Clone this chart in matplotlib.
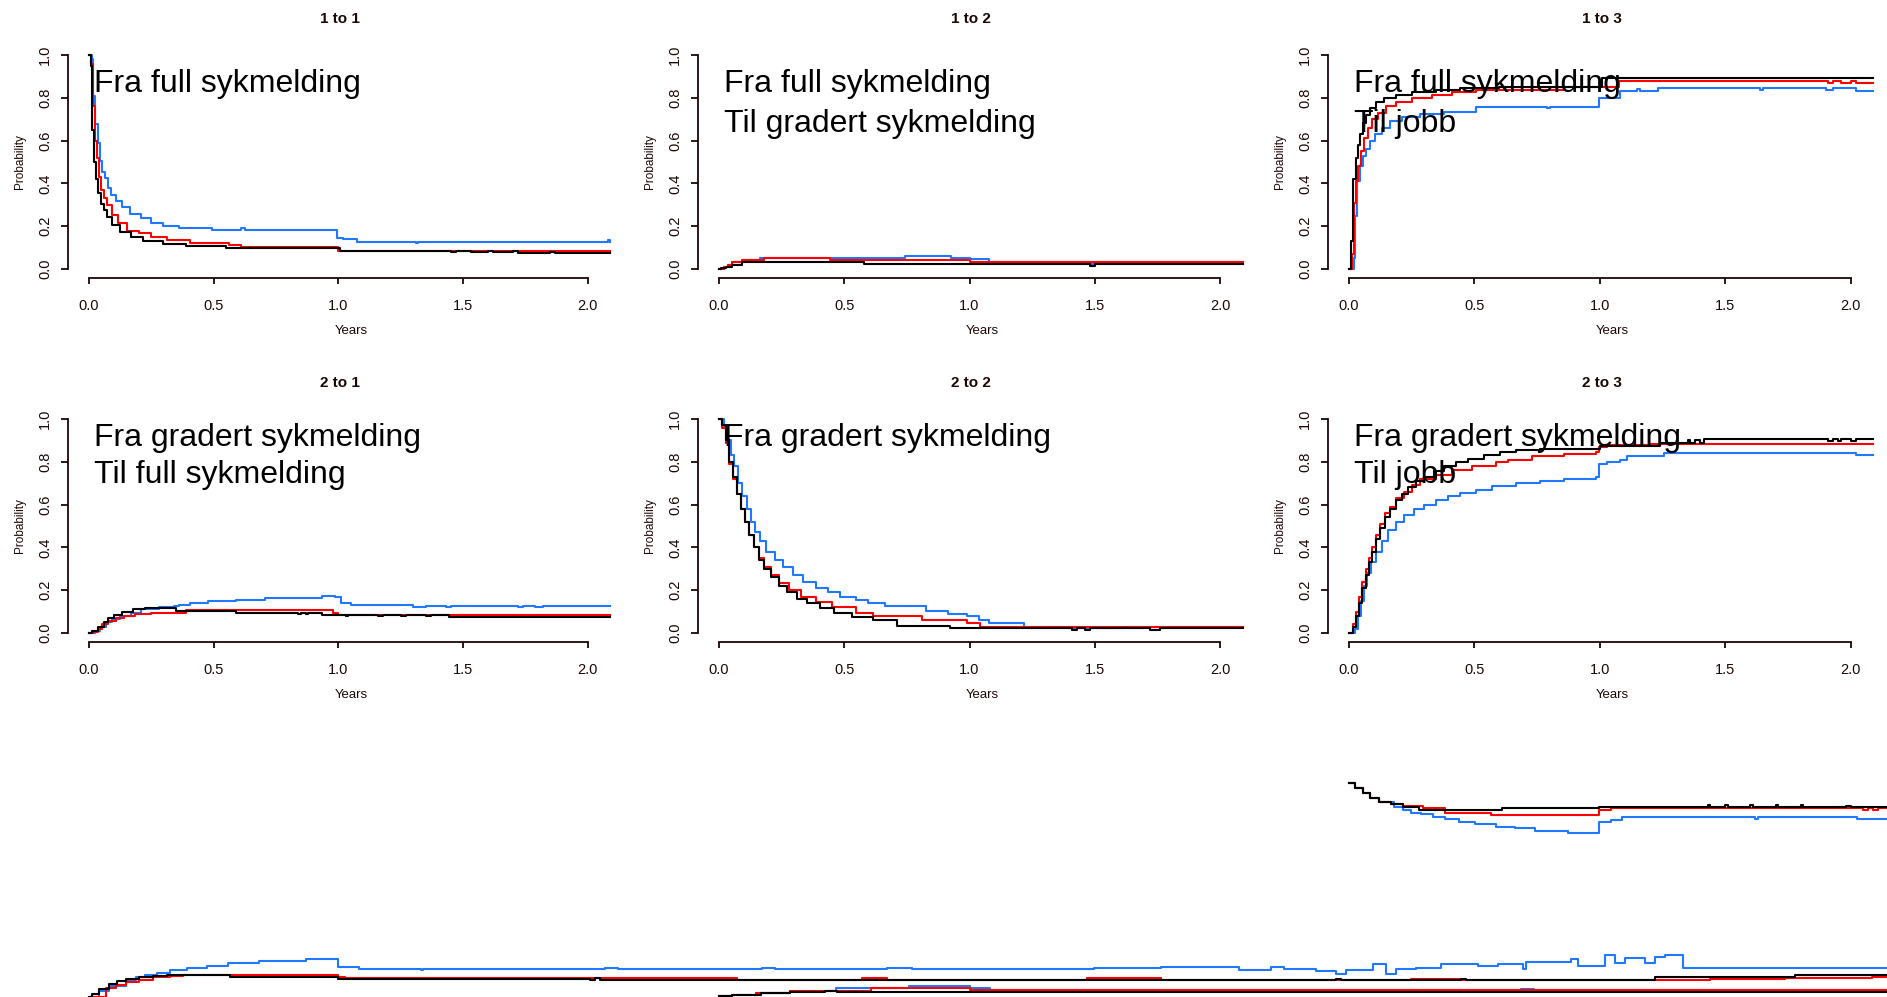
import matplotlib.pyplot as plt

# --- Transition probabilities (years, probability) for the three groups ---
# k = black, r = red, b = blue

# 1 to 1
k11 = [(0, 1.0), (0.0065, 0.95), (0.011, 0.65), (0.02, 0.50), (0.029, 0.42), (0.036, 0.357),
       (0.047, 0.302), (0.06, 0.276), (0.072, 0.245), (0.093, 0.206), (0.126, 0.174),
       (0.167, 0.148), (0.216, 0.132), (0.298, 0.115), (0.388, 0.107), (0.55, 0.097),
       (1.005, 0.086), (1.45, 0.078), (1.47, 0.086), (1.53, 0.078), (1.6, 0.086),
       (1.62, 0.078), (1.7, 0.086), (1.72, 0.075), (1.85, 0.08), (1.87, 0.075), (2.09, 0.075)]
r11 = [(0, 1.0), (0.008, 0.96), (0.016, 0.76), (0.023, 0.60), (0.033, 0.52), (0.041, 0.431),
       (0.049, 0.37), (0.061, 0.33), (0.072, 0.30), (0.093, 0.252), (0.118, 0.217),
       (0.151, 0.18), (0.2, 0.167), (0.249, 0.148), (0.314, 0.135), (0.404, 0.123),
       (0.56, 0.112), (0.61, 0.104), (1.0, 0.086), (2.09, 0.086)]
b11 = [(0, 1.0), (0.011, 0.98), (0.016, 0.81), (0.025, 0.678), (0.036, 0.59), (0.046, 0.505),
       (0.052, 0.455), (0.065, 0.424), (0.077, 0.377), (0.088, 0.346), (0.11, 0.318),
       (0.134, 0.288), (0.164, 0.255), (0.208, 0.237), (0.249, 0.217), (0.298, 0.20),
       (0.363, 0.19), (0.494, 0.182), (0.609, 0.19), (0.625, 0.182), (0.993, 0.146),
       (1.018, 0.139), (1.075, 0.128), (1.31, 0.12), (1.32, 0.128), (2.08, 0.135), (2.09, 0.128)]

# 1 to 2
k12 = [(0, 0), (0.01, 0.003), (0.028, 0.011), (0.052, 0.019), (0.093, 0.031), (0.581, 0.022),
       (1.48, 0.015), (1.50, 0.022), (2.09, 0.022)]
r12 = [(0, 0), (0.02, 0.01), (0.036, 0.02), (0.052, 0.034), (0.093, 0.044), (0.182, 0.053),
       (0.442, 0.044), (1.0, 0.031), (2.09, 0.031)]
b12 = [(0, 0), (0.02, 0.01), (0.036, 0.02), (0.052, 0.034), (0.093, 0.044), (0.166, 0.053),
       (0.744, 0.063), (0.926, 0.05), (1.0, 0.045), (1.077, 0.031), (1.48, 0.025),
       (1.50, 0.031), (2.09, 0.031)]

# 1 to 3
k13 = [(0, 0), (0.0096, 0.13), (0.0175, 0.42), (0.029, 0.52), (0.038, 0.58), (0.045, 0.63),
       (0.057, 0.68), (0.069, 0.72), (0.084, 0.75), (0.108, 0.78), (0.14, 0.80),
       (0.188, 0.815), (0.252, 0.825), (0.347, 0.835), (0.443, 0.845), (0.6, 0.852),
       (1.009, 0.891), (2.09, 0.891)]
r13 = [(0, 0), (0.013, 0.07), (0.021, 0.31), (0.029, 0.41), (0.038, 0.48), (0.048, 0.55),
       (0.061, 0.61), (0.076, 0.66), (0.092, 0.70), (0.116, 0.73), (0.148, 0.76),
       (0.188, 0.78), (0.252, 0.80), (0.331, 0.815), (0.411, 0.825), (0.507, 0.835),
       (0.857, 0.85), (1.076, 0.88), (1.909, 0.87), (1.93, 0.88), (1.96, 0.87), (2.0, 0.88),
       (2.02, 0.87), (2.09, 0.87)]
b13 = [(0, 0), (0.019, 0.05), (0.025, 0.25), (0.033, 0.41), (0.045, 0.48), (0.057, 0.53),
       (0.069, 0.56), (0.084, 0.60), (0.105, 0.63), (0.132, 0.66), (0.164, 0.69),
       (0.212, 0.71), (0.284, 0.725), (0.379, 0.735), (0.507, 0.755), (0.79, 0.75),
       (0.80, 0.755), (0.998, 0.80), (1.08, 0.833), (1.15, 0.84), (1.16, 0.833),
       (1.23, 0.844), (1.64, 0.838), (1.65, 0.844), (1.9, 0.834), (1.93, 0.844),
       (2.02, 0.83), (2.09, 0.83)]

# 2 to 1
k21 = [(0, 0), (0.011, 0.01), (0.036, 0.03), (0.061, 0.05), (0.077, 0.07), (0.101, 0.085),
       (0.134, 0.10), (0.175, 0.11), (0.224, 0.115), (0.347, 0.105), (0.589, 0.095),
       (0.84, 0.088), (0.85, 0.095), (0.87, 0.088), (0.88, 0.095), (0.936, 0.085),
       (1.03, 0.08), (1.04, 0.085), (1.16, 0.078), (1.18, 0.085), (1.25, 0.078),
       (1.27, 0.085), (1.35, 0.078), (1.37, 0.085), (1.443, 0.075), (2.09, 0.075)]
r21 = [(0, 0), (0.016, 0.005), (0.036, 0.02), (0.052, 0.04), (0.077, 0.055), (0.110, 0.07),
       (0.142, 0.08), (0.183, 0.09), (0.249, 0.095), (0.388, 0.106), (0.977, 0.095),
       (1.0, 0.085), (2.09, 0.085)]
b21 = [(0, 0), (0.023, 0.01), (0.044, 0.03), (0.069, 0.05), (0.093, 0.065), (0.126, 0.08),
       (0.167, 0.095), (0.208, 0.11), (0.282, 0.12), (0.339, 0.125), (0.363, 0.13),
       (0.404, 0.14), (0.478, 0.15), (0.589, 0.155), (0.704, 0.165), (0.936, 0.175),
       (0.985, 0.17), (1.01, 0.14), (1.05, 0.13), (1.30, 0.12), (1.35, 0.125), (1.43, 0.12),
       (1.45, 0.125), (1.72, 0.12), (1.74, 0.125), (1.79, 0.12), (1.82, 0.125), (2.09, 0.125)]

# 2 to 2
k22 = [(0, 1.0), (0.011, 0.97), (0.028, 0.90), (0.041, 0.80), (0.057, 0.73), (0.073, 0.65),
       (0.09, 0.58), (0.106, 0.52), (0.122, 0.46), (0.142, 0.40), (0.161, 0.34),
       (0.182, 0.30), (0.207, 0.26), (0.239, 0.22), (0.272, 0.19), (0.312, 0.16),
       (0.353, 0.14), (0.402, 0.115), (0.459, 0.095), (0.532, 0.075), (0.614, 0.06),
       (0.711, 0.035), (0.923, 0.025), (1.41, 0.015), (1.43, 0.025), (1.46, 0.015),
       (1.48, 0.025), (1.72, 0.015), (1.76, 0.025), (2.09, 0.025)]
r22 = [(0, 1.0), (0.011, 0.96), (0.028, 0.89), (0.041, 0.79), (0.057, 0.72), (0.073, 0.65),
       (0.09, 0.58), (0.106, 0.52), (0.122, 0.46), (0.142, 0.40), (0.161, 0.35),
       (0.182, 0.31), (0.207, 0.27), (0.239, 0.235), (0.279, 0.20), (0.329, 0.17),
       (0.386, 0.145), (0.451, 0.12), (0.549, 0.095), (0.614, 0.08), (0.81, 0.06),
       (0.988, 0.045), (1.04, 0.03), (2.09, 0.03)]
b22 = [(0, 1.0), (0.02, 0.96), (0.036, 0.90), (0.047, 0.83), (0.060, 0.78), (0.076, 0.70),
       (0.093, 0.64), (0.112, 0.58), (0.129, 0.52), (0.146, 0.47), (0.166, 0.43),
       (0.19, 0.38), (0.223, 0.34), (0.256, 0.31), (0.296, 0.27), (0.337, 0.24),
       (0.386, 0.21), (0.435, 0.19), (0.484, 0.17), (0.549, 0.155), (0.597, 0.14),
       (0.662, 0.125), (0.825, 0.105), (0.915, 0.09), (0.988, 0.08), (1.037, 0.06),
       (1.077, 0.045), (1.216, 0.03), (1.41, 0.025), (1.61, 0.03), (2.09, 0.03)]

# 2 to 3
k23 = [(0, 0), (0.016, 0.03), (0.029, 0.08), (0.041, 0.14), (0.054, 0.21), (0.067, 0.27),
       (0.08, 0.33), (0.092, 0.38), (0.108, 0.44), (0.124, 0.49), (0.143, 0.54),
       (0.164, 0.58), (0.188, 0.62), (0.212, 0.65), (0.236, 0.68), (0.268, 0.71),
       (0.30, 0.73), (0.339, 0.755), (0.379, 0.78), (0.427, 0.80), (0.475, 0.815),
       (0.539, 0.83), (0.602, 0.845), (0.666, 0.855), (0.762, 0.86), (1.001, 0.875),
       (1.24, 0.89), (1.35, 0.9), (1.36, 0.89), (1.38, 0.9), (1.40, 0.89), (1.415, 0.905),
       (1.91, 0.895), (1.93, 0.905), (1.95, 0.895), (1.96, 0.905), (2.0, 0.895),
       (2.02, 0.905), (2.09, 0.905)]
r23 = [(0, 0), (0.016, 0.04), (0.029, 0.10), (0.041, 0.17), (0.054, 0.24), (0.067, 0.30),
       (0.08, 0.35), (0.092, 0.40), (0.108, 0.46), (0.124, 0.51), (0.143, 0.56),
       (0.164, 0.59), (0.188, 0.63), (0.220, 0.66), (0.252, 0.69), (0.284, 0.72),
       (0.347, 0.74), (0.411, 0.76), (0.491, 0.78), (0.586, 0.80), (0.634, 0.81),
       (0.73, 0.825), (0.857, 0.835), (0.985, 0.845), (0.998, 0.87), (1.03, 0.88),
       (1.2, 0.885), (2.09, 0.885)]
b23 = [(0, 0), (0.025, 0.02), (0.037, 0.08), (0.048, 0.15), (0.061, 0.22), (0.073, 0.28),
       (0.089, 0.33), (0.108, 0.38), (0.132, 0.43), (0.156, 0.48), (0.188, 0.52),
       (0.22, 0.55), (0.26, 0.58), (0.3, 0.60), (0.347, 0.62), (0.395, 0.64), (0.443, 0.655),
       (0.507, 0.67), (0.57, 0.685), (0.666, 0.70), (0.762, 0.71), (0.857, 0.72),
       (0.985, 0.73), (0.998, 0.79), (1.03, 0.80), (1.08, 0.81), (1.11, 0.825),
       (1.256, 0.84), (2.02, 0.83), (2.09, 0.83)]

# 3 to 1 (longer follow-up, drawn past the panel edge)
k31 = [(0, 0), (0.012, 0.014), (0.04, 0.037), (0.081, 0.061), (0.113, 0.075), (0.15, 0.084),
       (0.2, 0.093), (0.255, 0.098), (0.312, 0.103), (0.567, 0.093), (1.0, 0.084),
       (2.01, 0.079), (2.03, 0.088), (2.05, 0.079), (4.95, 0.079), (5.0, 0.084),
       (5.02, 0.079), (5.5, 0.084), (5.52, 0.079), (6.28, 0.093), (6.84, 0.103), (7.21, 0.103)]
r31 = [(0, 0), (0.069, 0.042), (0.11, 0.056), (0.15, 0.07), (0.202, 0.079), (0.255, 0.093),
       (0.324, 0.098), (0.377, 0.103), (1.0, 0.095), (1.025, 0.089), (2.27, 0.089),
       (2.6, 0.08), (3.1, 0.089), (3.2, 0.08), (4.0, 0.089), (4.3, 0.08), (5.3, 0.085),
       (5.5, 0.08), (6.5, 0.084), (6.8, 0.089), (7.15, 0.093), (7.21, 0.093)]
b31 = [(0, 0), (0.04, 0.03), (0.081, 0.05), (0.15, 0.08), (0.19, 0.093), (0.223, 0.103),
       (0.271, 0.112), (0.324, 0.126), (0.393, 0.136), (0.474, 0.145), (0.559, 0.159),
       (0.68, 0.168), (0.87, 0.178), (1.0, 0.14), (1.081, 0.131), (1.33, 0.126),
       (1.34, 0.131), (2.07, 0.136), (2.12, 0.131), (2.7, 0.136), (2.75, 0.131),
       (3.2, 0.136), (3.3, 0.131), (4.03, 0.136), (4.3, 0.14), (4.61, 0.126), (4.74, 0.14),
       (4.79, 0.13), (4.92, 0.121), (5.0, 0.107), (5.04, 0.126), (5.15, 0.154),
       (5.2, 0.107), (5.24, 0.131), (5.32, 0.136), (5.42, 0.154), (5.57, 0.145),
       (5.65, 0.154), (5.75, 0.131), (5.76, 0.164), (5.94, 0.178), (5.97, 0.145),
       (6.08, 0.196), (6.12, 0.159), (6.16, 0.182), (6.24, 0.159), (6.28, 0.187),
       (6.32, 0.196), (6.39, 0.136), (7.21, 0.136)]

# 3 to 2
k32 = [(0, 0.005), (0.053, 0.009), (0.17, 0.019), (0.283, 0.023), (0.425, 0.028),
       (0.47, 0.023), (4.66, 0.023)]
r32 = [(0, 0.005), (0.053, 0.009), (0.15, 0.019), (0.283, 0.028), (0.607, 0.042),
       (1.0, 0.033), (4.66, 0.033)]
b32 = [(0, 0.005), (0.053, 0.009), (0.15, 0.019), (0.283, 0.028), (0.466, 0.042),
       (0.757, 0.051), (1.0, 0.042), (1.08, 0.033), (3.2, 0.038), (3.25, 0.033), (4.66, 0.033)]

# 3 to 3
k33 = [(0, 1.0), (0.024, 0.977), (0.058, 0.953), (0.086, 0.93), (0.12, 0.911), (0.168, 0.902),
       (0.216, 0.888), (0.278, 0.874), (0.609, 0.883), (0.998, 0.888), (1.43, 0.897),
       (1.44, 0.888), (1.5, 0.897), (1.51, 0.888), (1.6, 0.897), (1.61, 0.888), (1.7, 0.897),
       (1.71, 0.888), (1.8, 0.897), (1.81, 0.888), (1.98, 0.893), (2.0, 0.888), (2.15, 0.888)]
r33 = [(0, 1.0), (0.024, 0.977), (0.058, 0.953), (0.086, 0.93), (0.12, 0.911), (0.168, 0.902),
       (0.216, 0.893), (0.297, 0.883), (0.384, 0.86), (0.566, 0.85), (0.998, 0.874),
       (1.046, 0.883), (2.05, 0.874), (2.07, 0.883), (2.09, 0.874), (2.11, 0.883), (2.15, 0.878)]
b33 = [(0, 1.0), (0.024, 0.977), (0.058, 0.953), (0.086, 0.93), (0.12, 0.911), (0.182, 0.888),
       (0.216, 0.874), (0.249, 0.86), (0.288, 0.855), (0.336, 0.841), (0.384, 0.832),
       (0.441, 0.818), (0.504, 0.808), (0.585, 0.794), (0.662, 0.79), (0.743, 0.776),
       (0.873, 0.766), (0.998, 0.818), (1.046, 0.827), (1.089, 0.841), (1.62, 0.832),
       (1.63, 0.841), (2.024, 0.832), (2.15, 0.832)]

titles = ['1 to 1', '1 to 2', '1 to 3', '2 to 1', '2 to 2', '2 to 3']
notes = [
    ['Fra full sykmelding'],
    ['Fra full sykmelding', 'Til gradert sykmelding'],
    ['Fra full sykmelding', 'Til jobb'],
    ['Fra gradert sykmelding', 'Til full sykmelding'],
    ['Fra gradert sykmelding'],
    ['Fra gradert sykmelding', 'Til jobb'],
]
curves = [(k11, r11, b11), (k12, r12, b12), (k13, r13, b13),
          (k21, r21, b21), (k22, r22, b22), (k23, r23, b23)]
bottom_curves = [(k31, r31, b31), (k32, r32, b32), (k33, r33, b33)]

xticks = [0.0, 0.5, 1.0, 1.5, 2.0]
yticks = [0.0, 0.2, 0.4, 0.6, 0.8, 1.0]

ink = '#1c0606'
colors = {'k': '#000000', 'r': '#ff0000', 'b': '#1f78ff'}

plt.rcParams['font.family'] = ['Liberation Sans', 'DejaVu Sans']

W, H = 1887, 997
fig = plt.figure(figsize=(W / 100, H / 100), dpi=100)

# plot regions in pixels: (left, right) per column, (top, bottom) per row
cols = [(68.0, 633.7), (697.7, 1266.5), (1327.7, 1897.0)]
rows = [(46.4, 277.6), (410.4, 641.6), (774.4, 1005.6)]
XLIM = (-0.084, 2.184)
YLIM = (-0.04, 1.04)


def region(col, row):
    l, r = cols[col]
    t, b = rows[row]
    return [l / W, 1 - b / H, (r - l) / W, (b - t) / H]


def step(ax, pts, color, clip=True):
    t = [p[0] for p in pts]
    y = [p[1] for p in pts]
    ax.step(t, y, where='post', color=color, lw=1.5, clip_on=clip)


for i, title in enumerate(titles):
    row, col = divmod(i, 3)
    ax = fig.add_axes(region(col, row))
    ax.set_xlim(*XLIM)
    ax.set_ylim(*YLIM)
    for s in ['top', 'right']:
        ax.spines[s].set_visible(False)
    for s in ['left', 'bottom']:
        ax.spines[s].set_color(ink)
        ax.spines[s].set_linewidth(1.3)
    ax.spines['left'].set_bounds(0, 1)
    ax.spines['bottom'].set_bounds(0, 2)
    ax.set_xticks(xticks)
    ax.set_xticklabels([f'{v:.1f}' for v in xticks])
    ax.set_yticks(yticks)
    ax.set_yticklabels([f'{v:.1f}' for v in yticks], rotation=90, va='center')
    ax.tick_params(axis='x', length=4.5, width=1.3, pad=11, labelsize=10.5,
                   color=ink, labelcolor=ink)
    ax.tick_params(axis='y', length=5.3, width=1.3, pad=6, labelsize=10.5,
                   color=ink, labelcolor=ink)
    ax.set_xlabel('Years', fontsize=9.5, color=ink, va='center')
    ax.xaxis.set_label_coords(0.5, -0.23)
    ax.set_ylabel('Probability', fontsize=8.5, color=ink, va='center')
    ax.yaxis.set_label_coords(-0.084, 0.5)
    ax.text(0.481, 1.117, title, transform=ax.transAxes, ha='center', va='center',
            fontsize=11, fontweight='bold', color=ink)

    k, r, b = curves[i]
    step(ax, b, colors['b'])
    step(ax, r, colors['r'])
    step(ax, k, colors['k'])

    y0 = 0.828 if row == 0 else 0.874
    gap = 0.187 if row == 0 else 0.174
    for j, line in enumerate(notes[i]):
        ax.text(0.021, y0 - j * gap, line, fontsize=23, ha='left', va='baseline', color='black')

# third row: curves only, axes not drawn
for col, (k, r, b) in enumerate(bottom_curves):
    ax = fig.add_axes(region(col, 2))
    ax.set_xlim(*XLIM)
    ax.set_ylim(*YLIM)
    ax.axis('off')
    step(ax, b, colors['b'], clip=False)
    step(ax, r, colors['r'], clip=False)
    step(ax, k, colors['k'], clip=False)

fig.savefig('out.png', dpi=100)
